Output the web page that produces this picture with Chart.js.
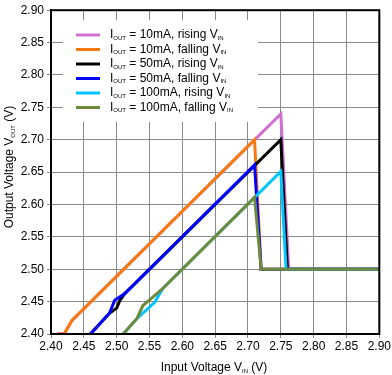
<!DOCTYPE html>
<html>
<head>
  <script src="https://cdn.jsdelivr.net/npm/chart.js"></script>
  <style>
    body { margin: 0; background: #fff; }
    .chart-container { position: relative; width: 392px; height: 375px; }
  </style>
</head>
<body>
  <div class="chart-container">
    <canvas id="vinChart"></canvas>
  </div>
  <script>
    // Data (V_IN, V_OUT)
    const rise10X  = [2.41, 2.42, 2.432, 2.75, 2.762, 2.90];
    const rise10Y  = [2.40, 2.40, 2.421, 2.74, 2.50, 2.50];
    const fall10X  = [2.41, 2.42, 2.432, 2.71, 2.72, 2.90];
    const fall10Y  = [2.40, 2.40, 2.421, 2.70, 2.50, 2.50];
    const rise50X  = [2.46, 2.489, 2.50, 2.505, 2.512, 2.75, 2.76, 2.90];
    const rise50Y  = [2.40, 2.432, 2.44, 2.452, 2.462, 2.70, 2.50, 2.50];
    const fall50X  = [2.46, 2.489, 2.497, 2.512, 2.71, 2.72, 2.90];
    const fall50Y  = [2.40, 2.432, 2.452, 2.462, 2.661, 2.50, 2.50];
    const rise100X = [2.51, 2.531, 2.558, 2.57, 2.75, 2.758, 2.90];
    const rise100Y = [2.40, 2.424, 2.449, 2.47, 2.651, 2.50, 2.50];
    const fall100X = [2.51, 2.531, 2.540, 2.555, 2.57, 2.71, 2.72, 2.90];
    const fall100Y = [2.40, 2.424, 2.444, 2.457, 2.47, 2.611, 2.50, 2.50];

    const seriesLabels = [
      '10mA, rising V', '10mA, falling V', '50mA, rising V',
      '50mA, falling V', '100mA, rising V', '100mA, falling V'
    ];
    const seriesColors = ['#D070D0', '#F7790F', '#000000', '#0000FF', '#00C4FF', '#6E8B3D'];
    const seriesX = [rise10X, fall10X, rise50X, fall50X, rise100X, fall100X];
    const seriesY = [rise10Y, fall10Y, rise50Y, fall50Y, rise100Y, fall100Y];

    const axisTicks = [2.40, 2.45, 2.50, 2.55, 2.60, 2.65, 2.70, 2.75, 2.80, 2.85, 2.90];

    const FONT = 'Arial, "Liberation Sans", sans-serif';

    // Text with subscripts: parts = [[text, isSub], ...]
    function drawRich(ctx, parts, x, y) {
      let cx = x;
      for (const [txt, sub] of parts) {
        ctx.font = sub ? '6px ' + FONT : '12px ' + FONT;
        ctx.fillText(txt, cx, sub ? y + 3 : y);
        cx += ctx.measureText(txt).width;
      }
      return cx - x;
    }
    function richWidth(ctx, parts) {
      let w = 0;
      for (const [txt, sub] of parts) {
        ctx.font = sub ? '6px ' + FONT : '12px ' + FONT;
        w += ctx.measureText(txt).width;
      }
      return w;
    }

    const datasets = seriesX.map((xs, i) => ({
      label: seriesLabels[i],
      data: xs.map((x, j) => ({ x: x, y: seriesY[i][j] })),
      borderColor: seriesColors[i],
      backgroundColor: seriesColors[i],
      borderWidth: 3,
      pointRadius: 0,
      tension: 0,
      order: 5 - i
    }));

    const decorPlugin = {
      id: 'decor',
      beforeDatasetsDraw(chart) {
        const ctx = chart.ctx;
        ctx.save();
        // legend box
        ctx.fillStyle = '#fff';
        ctx.fillRect(63, 20, 195, 102);
        ctx.textBaseline = 'middle';
        seriesLabels.forEach((lab, i) => {
          const y = 35 + i * 14.5;
          ctx.strokeStyle = seriesColors[i];
          ctx.lineWidth = 3;
          ctx.beginPath();
          ctx.moveTo(76, y);
          ctx.lineTo(100, y);
          ctx.stroke();
          ctx.fillStyle = '#000';
          drawRich(ctx, [['I', false], ['OUT', true], [' = ' + lab, false], ['IN', true]], 110, y);
        });
        ctx.restore();
      },
      afterDatasetsDraw(chart) {
        const ctx = chart.ctx;
        const a = chart.chartArea;
        ctx.save();
        ctx.strokeStyle = '#000';
        ctx.lineWidth = 2;
        ctx.strokeRect(a.left, a.top, a.right - a.left, a.bottom - a.top);
        ctx.fillStyle = '#000';
        ctx.textBaseline = 'middle';
        // x axis title
        const xParts = [['Input Voltage V', false], ['IN', true], [' (V)', false]];
        const xw = richWidth(ctx, xParts);
        drawRich(ctx, xParts, 214 - xw / 2, 368);
        // y axis title
        const yParts = [['Output Voltage V', false], ['OUT', true], [' (V)', false]];
        const yw = richWidth(ctx, yParts);
        ctx.translate(10, 167);
        ctx.rotate(-Math.PI / 2);
        drawRich(ctx, yParts, -yw / 2, 0);
        ctx.restore();
      }
    };

    new Chart(document.getElementById('vinChart'), {
      type: 'line',
      data: { datasets: datasets },
      options: {
        responsive: true,
        maintainAspectRatio: false,
        animation: false,
        layout: { padding: { left: 0, right: 11, top: 5, bottom: 0 } },
        plugins: {
          legend: { display: false },
          tooltip: { enabled: false }
        },
        scales: {
          x: {
            type: 'linear',
            min: 2.40,
            max: 2.90,
            afterBuildTicks: s => { s.ticks = axisTicks.map(v => ({ value: v })); },
            afterFit: s => { s.height = 41; },
            grid: { color: '#8a8a8a', lineWidth: 1, tickLength: 4, tickColor: '#8a8a8a' },
            border: { color: '#000', width: 2 },
            ticks: {
              padding: 1,
              maxRotation: 0,
              autoSkip: false,
              color: '#000',
              font: { family: FONT, size: 12 },
              callback: v => v.toFixed(2)
            }
          },
          y: {
            type: 'linear',
            min: 2.40,
            max: 2.90,
            afterBuildTicks: s => { s.ticks = axisTicks.map(v => ({ value: v })); },
            afterFit: s => { s.width = 51; },
            grid: { color: '#8a8a8a', lineWidth: 1, tickLength: 4, tickColor: '#8a8a8a' },
            border: { color: '#000', width: 2 },
            ticks: {
              padding: 3,
              autoSkip: false,
              color: '#000',
              font: { family: FONT, size: 12 },
              callback: v => v.toFixed(2)
            }
          }
        }
      },
      plugins: [decorPlugin]
    });
  </script>
</body>
</html>
